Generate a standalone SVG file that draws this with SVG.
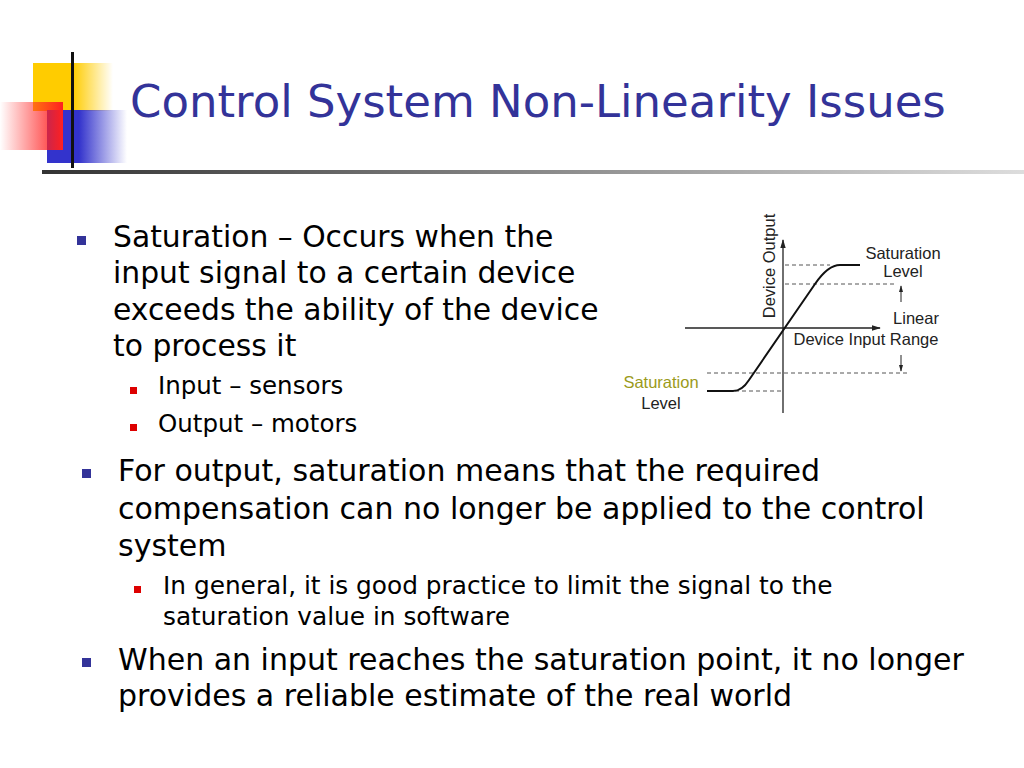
<svg xmlns="http://www.w3.org/2000/svg" width="1024" height="768" viewBox="0 0 1024 768">
<defs>
<linearGradient id="gy" x1="0" x2="1"><stop offset="0" stop-color="#ffcc00"/><stop offset="0.5" stop-color="#ffcc00"/><stop offset="1" stop-color="#ffcc00" stop-opacity="0"/></linearGradient>
<linearGradient id="gb" x1="0" x2="1"><stop offset="0" stop-color="#3333cc"/><stop offset="0.4" stop-color="#3333cc"/><stop offset="1" stop-color="#3333cc" stop-opacity="0"/></linearGradient>
<linearGradient id="gr" x1="1" x2="0"><stop offset="0" stop-color="#ff2020"/><stop offset="1" stop-color="#ff2020" stop-opacity="0"/></linearGradient>
<linearGradient id="gl" x1="0" x2="1"><stop offset="0" stop-color="#333"/><stop offset="0.6" stop-color="#999"/><stop offset="1" stop-color="#ddd"/></linearGradient>
<marker id="ar" viewBox="0 0 10 10" refX="9" refY="5" markerWidth="7" markerHeight="7" orient="auto"><path d="M0,2 L10,5 L0,8 z" fill="#222"/></marker>
</defs>
<style>
.t{font-family:Tahoma,"DejaVu Sans",sans-serif;fill:#000}
.g{font-family:"Liberation Sans",Arial,sans-serif;font-size:16.5px;fill:#222}
.d{stroke:#555;stroke-width:1;stroke-dasharray:4,3;fill:none}
</style>
<rect width="1024" height="768" fill="#fff"/>
<g id="logo">
<rect x="33" y="63" width="80" height="48" fill="url(#gy)"/>
<rect x="47" y="110" width="80" height="53" fill="url(#gb)"/>
<rect x="0" y="102" width="63" height="48" fill="url(#gr)"/>
<rect x="71" y="52" width="3" height="116" fill="#111"/>
<rect x="42" y="170" width="982" height="4" fill="url(#gl)"/>
</g>
<text x="130" y="117" font-family="Tahoma,'DejaVu Sans',sans-serif" font-size="45" fill="#333399">Control System Non-Linearity Issues</text>
<g id="bullets">
<rect x="77" y="236" width="9" height="9" fill="#333399"/>
<text class="t" font-size="29.8" x="113" y="247">Saturation – Occurs when the</text>
<text class="t" font-size="29.8" x="113" y="283">input signal to a certain device</text>
<text class="t" font-size="29.8" x="113" y="320">exceeds the ability of the device</text>
<text class="t" font-size="29.8" x="113" y="356">to process it</text>
<rect x="130" y="387" width="7" height="7" fill="#dd0000"/>
<text class="t" font-size="24.5" x="158" y="394">Input – sensors</text>
<rect x="130" y="424" width="7" height="7" fill="#dd0000"/>
<text class="t" font-size="24.5" x="158" y="432">Output – motors</text>
<rect x="82" y="469" width="9" height="9" fill="#333399"/>
<text class="t" font-size="30" x="118" y="481">For output, saturation means that the required</text>
<text class="t" font-size="30" x="118" y="519">compensation can no longer be applied to the control</text>
<text class="t" font-size="30" x="118" y="556">system</text>
<rect x="134" y="586" width="7" height="7" fill="#dd0000"/>
<text class="t" font-size="24.8" x="163" y="594">In general, it is good practice to limit the signal to the</text>
<text class="t" font-size="24.8" x="163" y="625">saturation value in software</text>
<rect x="82" y="658" width="9" height="9" fill="#333399"/>
<text class="t" font-size="30" x="118" y="670">When an input reaches the saturation point, it no longer</text>
<text class="t" font-size="30" x="118" y="706">provides a reliable estimate of the real world</text>
</g>
<g id="graph">
<line x1="783" y1="413" x2="783" y2="240" stroke="#222" stroke-width="1.3" marker-end="url(#ar)"/>
<line x1="685" y1="328" x2="880" y2="328" stroke="#222" stroke-width="1.3" marker-end="url(#ar)"/>
<path class="d" d="M785,265 H830 M785,284 H895 M707,373 H908 M735,391 H783"/>
<path d="M707,391 H733 Q742,391 749,380 L815,284 Q828,265 840,265 H860" fill="none" stroke="#111" stroke-width="2"/>
<line x1="901" y1="302" x2="901" y2="286" stroke="#222" marker-end="url(#ar)"/>
<line x1="901" y1="355" x2="901" y2="371" stroke="#222" marker-end="url(#ar)"/>
<text class="g" x="903" y="259" text-anchor="middle">Saturation</text>
<text class="g" x="903" y="277" text-anchor="middle">Level</text>
<text class="g" x="916" y="324" text-anchor="middle">Linear</text>
<text class="g" x="866" y="345" text-anchor="middle">Device Input Range</text>
<text class="g" x="661" y="388" text-anchor="middle" style="fill:#9a9a1a">Saturation</text>
<text class="g" x="661" y="409" text-anchor="middle">Level</text>
<text class="g" transform="translate(775,266) rotate(-90)" text-anchor="middle">Device Output</text>
</g>
</svg>
